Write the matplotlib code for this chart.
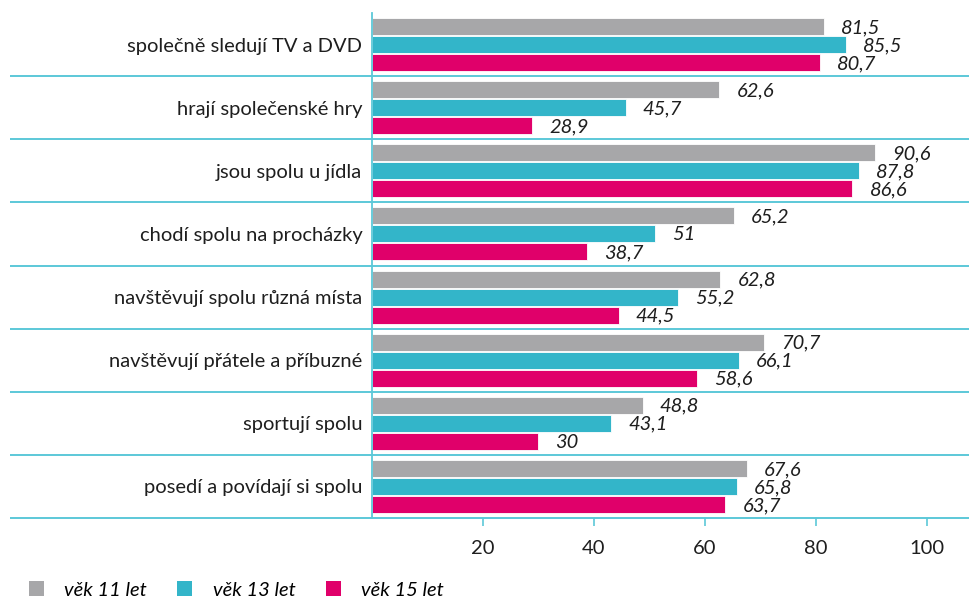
import matplotlib
matplotlib.use("Agg")
import matplotlib.pyplot as plt
from matplotlib.patches import Patch
import numpy as np

categories = [
    "společně sledují TV a DVD",
    "hrají společenské hry",
    "jsou spolu u jídla",
    "chodí spolu na procházky",
    "navštěvují spolu různá místa",
    "navštěvují přátele a příbuzné",
    "sportují spolu",
    "posedí a povídají si spolu",
]
series_names = ["věk 11 let", "věk 13 let", "věk 15 let"]
age11 = [81.5, 62.6, 90.6, 65.2, 62.8, 70.7, 48.8, 67.6]
age13 = [85.5, 45.7, 87.8, 51, 55.2, 66.1, 43.1, 65.8]
age15 = [80.7, 28.9, 86.6, 38.7, 44.5, 58.6, 30, 63.7]
x_ticks = [20, 40, 60, 80, 100]

colors = ["#A7A7A9", "#33B5C9", "#E0006A"]
line_col = "#5CC8D8"
font = "Lato"
txt_col = "#1e1e1e"

W, H = 969, 601
fig = plt.figure(figsize=(W / 100, H / 100), dpi=100)
ax = fig.add_axes([372 / W, 1 - 518 / H, (969 - 372) / W, (518 - 13) / H])

n = len(categories)
y = np.arange(n)
bh = 0.27
offs = [-0.285, 0.0, 0.285]
for vals, off, c in zip([age11, age13, age15], offs, colors):
    ax.barh(y + off, vals, height=bh, color=c, edgecolor="white", linewidth=0.6)
    for yy, v in zip(y + off, vals):
        lab = f"{v:g}".replace(".", ",")
        ax.annotate(lab, (v, yy), xytext=(17, -1), textcoords="offset pixels",
                    ha="left", va="center", fontsize=14.5, style="italic",
                    family=font, color=txt_col)

ax.set_xlim(0, 107.6)
ax.set_ylim(n - 0.5, -0.5)

for s in ["top", "right", "bottom"]:
    ax.spines[s].set_visible(False)
ax.spines["left"].set_color(line_col)
ax.spines["left"].set_linewidth(1.3)

# category separators extending into label area
for k in range(n):
    yb = k + 0.5
    ax.plot([-362 / 5.55, 107.6], [yb, yb], color=line_col, lw=1.4,
            clip_on=False, solid_capstyle="butt")

ax.set_yticks(y)
ax.set_yticklabels(categories, fontsize=14.5, family=font, color=txt_col)
ax.tick_params(axis="y", length=0, pad=7)

ax.set_xticks(x_ticks)
ax.set_xticklabels([str(t) for t in x_ticks], fontsize=14.5, family=font, color=txt_col)
ax.tick_params(axis="x", length=6, width=1.2, color=line_col, direction="out", pad=10)

handles = [Patch(facecolor=c, edgecolor="none") for c in colors]
fig.legend(handles, series_names, loc="center left", bbox_to_anchor=(15 / W, 1 - 590 / H),
           ncol=3, frameon=False, borderpad=0.2,
           prop={"family": font, "style": "italic", "size": 14.5},
           handlelength=0.75, handleheight=0.75, columnspacing=1.5, handletextpad=1.0)

fig.savefig("out.png", dpi=100)
